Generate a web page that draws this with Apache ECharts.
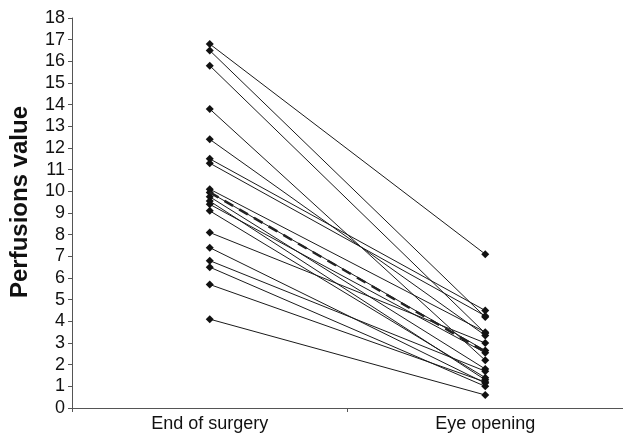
<!DOCTYPE html>
<html>
<head>
<meta charset="utf-8">
<script src="https://cdn.jsdelivr.net/npm/echarts@6/dist/echarts.min.js"></script>
<style>
  html, body { margin: 0; padding: 0; background: #fff; }
  #chart { width: 623px; height: 435px; }
</style>
</head>
<body>
<div id="chart"></div>
<script>
// Paired perfusion values per patient: end of surgery vs eye opening
const categories = ['End of surgery', 'Eye opening'];
const endOfSurgery = [16.8, 16.5, 15.8, 13.8, 12.4, 11.5, 11.3, 10.1, 9.95, 9.75, 9.55, 9.4, 9.1, 8.1, 7.4, 6.8, 6.5, 5.7, 4.1];
const eyeOpening   = [7.1, 4.2, 3.45, 2.2, 3.35, 4.5, 4.25, 3.5, 2.65, 1.8, 1.3, 2.55, 1.4, 3.0, 1.15, 1.7, 1.0, 1.2, 0.6];
// Group mean, drawn dashed
const meanValues = [9.95, 2.6];
const yTicks = { min: 0, max: 18, step: 1 };

const FONT = 'Liberation Sans, Arial, sans-serif';

const patientSeries = endOfSurgery.map((v, i) => ({
  type: 'line',
  data: [v, eyeOpening[i]],
  symbol: 'diamond',
  symbolSize: 8,
  showSymbol: true,
  lineStyle: { color: '#1a1a1a', width: 1 },
  itemStyle: { color: '#111' },
  silent: true,
  z: 2
}));

const meanSeries = {
  type: 'line',
  data: meanValues,
  symbol: 'none',
  lineStyle: { color: '#222', width: 2.5, type: [10, 7] },
  silent: true,
  z: 3
};

const chart = echarts.init(document.getElementById('chart'), null, { renderer: 'canvas' });
chart.setOption({
  animation: false,
  backgroundColor: '#fff',
  grid: { left: 69, right: -6, top: 18, bottom: 27 },
  xAxis: {
    type: 'category',
    data: categories,
    boundaryGap: true,
    axisLine: { lineStyle: { color: '#555', width: 1 } },
    axisTick: { show: true, inside: false, length: 4, lineStyle: { color: '#555' } },
    axisLabel: { color: '#111', fontSize: 18, fontFamily: FONT, margin: 7 }
  },
  yAxis: {
    type: 'value',
    min: yTicks.min,
    max: yTicks.max,
    interval: yTicks.step,
    name: 'Perfusions value',
    nameLocation: 'middle',
    nameGap: 40,
    nameTextStyle: {
      color: '#111', fontSize: 24, fontWeight: 'bold', fontFamily: FONT,
      padding: [0, 0, 0, 22]
    },
    axisLine: { show: true, lineStyle: { color: '#555', width: 1 } },
    axisTick: { show: true, inside: false, length: 4, lineStyle: { color: '#555' } },
    splitLine: { show: false },
    axisLabel: { color: '#111', fontSize: 18, fontFamily: FONT, margin: 7 }
  },
  series: [...patientSeries, meanSeries]
});
</script>
</body>
</html>
